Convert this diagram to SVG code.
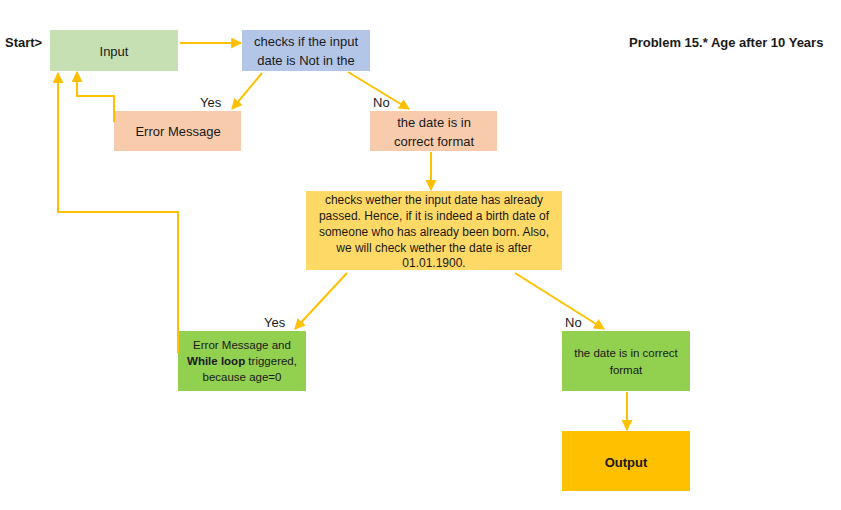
<svg xmlns="http://www.w3.org/2000/svg" width="841" height="510" viewBox="0 0 841 510">
<style>
text{font-family:"Liberation Sans",Arial,sans-serif;fill:#1a1a1a;}
.t{font-size:13px;text-anchor:middle;}
.s{font-size:11.5px;text-anchor:middle;}
.m{font-size:12px;text-anchor:middle;}
.l{font-size:13px;}
.b{font-weight:bold;}
.c{fill:none;stroke:#ffc000;stroke-width:2;marker-end:url(#ah);}
</style>
<defs>
<marker id="ah" viewBox="0 0 10 10" refX="9" refY="5" markerWidth="5.5" markerHeight="5.5" orient="auto" markerUnits="strokeWidth">
<path d="M0,0 L10,5 L0,10 z" fill="#ffc000"/>
</marker>
</defs>
<rect width="841" height="510" fill="#fff"/>
<text class="l b" x="5" y="47" font-size="12">Start&gt;</text>
<text class="l b" x="629" y="47" font-size="12">Problem 15.* Age after 10 Years</text>
<g id="input"><rect x="50" y="30" width="128" height="41" fill="#c6e0b4"/><text class="t" x="114" y="56">Input</text></g>
<g id="check1"><rect x="242" y="30" width="128" height="41" fill="#b4c6e7"/><text class="t" x="306" y="46">checks if the input</text><text class="t" x="306" y="65">date is Not in the</text></g>
<g id="error1"><rect x="114" y="111" width="127" height="40" fill="#f8cbad"/><text class="t" x="178" y="136">Error Message</text></g>
<g id="correct1"><rect x="370" y="111" width="127" height="40" fill="#f8cbad"/><text class="t" x="434" y="127">the date is in</text><text class="t" x="434" y="146">correct format</text></g>
<g id="check2"><rect x="306" y="191" width="256" height="79" fill="#ffd966"/>
<text class="m" x="434" y="204">checks wether the input date has already</text>
<text class="m" x="434" y="220">passed. Hence, if it is indeed a birth date of</text>
<text class="m" x="434" y="236">someone who has already been born. Also,</text>
<text class="m" x="434" y="252">we will check wether the date is after</text>
<text class="m" x="434" y="267">01.01.1900.</text></g>
<g id="error2"><rect x="178" y="331" width="128" height="60" fill="#92d050"/>
<text class="s" x="242" y="349">Error Message and</text>
<text class="s" x="242" y="365"><tspan class="b">While loop</tspan> triggered,</text>
<text class="s" x="242" y="381">because age=0</text></g>
<g id="correct2"><rect x="562" y="331" width="128" height="60" fill="#92d050"/>
<text class="s" x="626" y="357">the date is in correct</text>
<text class="s" x="626" y="374">format</text></g>
<g id="output"><rect x="562" y="431" width="128" height="60" fill="#ffc000"/><text class="t b" x="626" y="467">Output</text></g>
<g id="connectors">
<path class="c" d="M180,43 L241,43"/>
<path class="c" d="M262,73 L232,109"/>
<path class="c" d="M348,72 L409,109"/>
<path class="c" d="M114,122 L114,96 L77,96 L77,72"/>
<path class="c" d="M178,353 L178,212 L58,212 L58,73"/>
<path class="c" d="M431,152 L431,190"/>
<path class="c" d="M347,273 L295,329"/>
<path class="c" d="M515,273 L604,329"/>
<path class="c" d="M627,392 L627,430"/>
</g>
<text class="l" x="200" y="107">Yes</text>
<text class="l" x="373" y="107">No</text>
<text class="l" x="264" y="327">Yes</text>
<text class="l" x="565" y="327">No</text>
</svg>
